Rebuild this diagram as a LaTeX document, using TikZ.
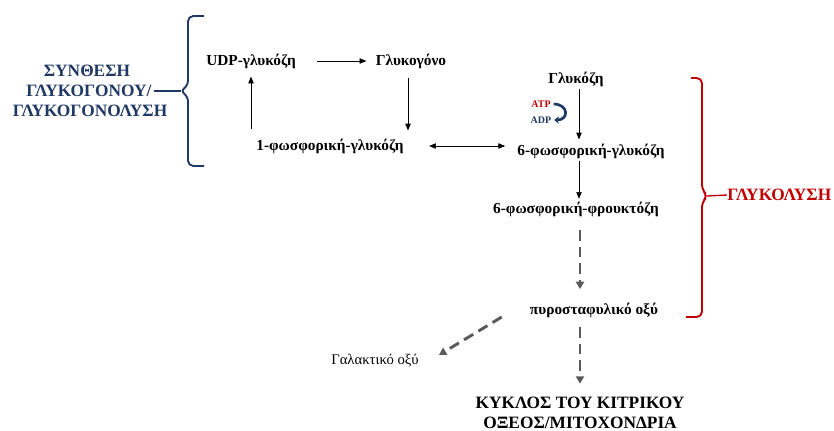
\documentclass[tikz,border=0pt]{standalone}
\usepackage{fontspec}
\setmainfont{Liberation Serif}
\usetikzlibrary{arrows.meta,calc}
\definecolor{navy}{HTML}{1F3864}
\definecolor{darkred}{HTML}{C00000}
\definecolor{dashgray}{HTML}{5A5A5A}
\begin{document}
\begin{tikzpicture}[x=0.75pt,y=-0.75pt,
  lbl/.style={inner sep=0pt,font=\fontsize{11.5}{13}\selectfont\bfseries},
  ttl/.style={inner sep=0pt,font=\fontsize{13}{14.5}\selectfont\bfseries},
  arr/.style={-{Triangle[length=5pt,width=4pt]},line width=0.4pt},
  darr/.style={-{Triangle[length=5.5pt,width=6pt]},line width=2.2pt,dashgray,dash pattern=on 8pt off 4.5pt},
  brace/.style={line width=1.4pt,rounded corners=4pt}]
\useasboundingbox (0,0) rectangle (834,430);
% synthesis / glycogenolysis
\node[ttl,navy] (synthA) at (87,71) {ΣΥΝΘΕΣΗ};
\node[ttl,navy] (synthB) at (89,91) {ΓΛΥΚΟΓΟΝΟΥ/};
\node[ttl,navy] (synthC) at (90,111) {ΓΛΥΚΟΓΟΝΟΛΥΣΗ};
\draw[navy,brace] (204,16) -- (188,16) -- (188,86) -- (180,91) -- (188,96) -- (188,166) -- (204,166);
\coordinate (btip) at (181,91);
\draw[navy,line width=1pt] ([xshift=2pt]synthB.east) -- (btip);
\node[lbl] (udp) at (251,61) {UDP-γλυκόζη};
\node[lbl] (glycogen) at (411,61) {Γλυκογόνο};
\node[lbl] (g1p) at (330,146) {1-φωσφορική-γλυκόζη};
\draw[arr,shorten <=16pt,shorten >=7pt] (udp.east) -- (glycogen.west);
\draw[arr,shorten <=7pt,shorten >=6pt] (glycogen.south -| 408,0) -- (g1p.north -| 408,0);
\draw[arr,shorten <=7pt,shorten >=6pt] (g1p.north -| 251,0) -- (udp.south -| 251,0);
% glycolysis
\node[lbl] (glucose) at (576,79) {Γλυκόζη};
\node[lbl] (g6p) at (591,151) {6-φωσφορική-γλυκόζη};
\node[lbl] (f6p) at (576,209) {6-φωσφορική-φρουκτόζη};
\node[lbl] (pyruvate) at (594,310) {πυροσταφυλικό οξύ};
\node[inner sep=0pt,font=\fontsize{11}{12}\selectfont] (lactate) at (375,361) {Γαλακτικό οξύ};
\node[ttl,align=center,anchor=north] (krebs) at (580,397) {ΚΥΚΛΟΣ ΤΟΥ ΚΙΤΡΙΚΟΥ\\ΟΞΕΟΣ/ΜΙΤΟΧΟΝΔΡΙΑ};
\node[inner sep=0pt,font=\fontsize{7.5}{8}\selectfont\bfseries,darkred] (atp) at (541,104) {ATP};
\node[inner sep=0pt,font=\fontsize{7.5}{8}\selectfont\bfseries,navy] (adp) at (541,120) {ADP};
\draw[navy,line width=2pt,-{Stealth[length=3.5pt,width=5.5pt]}] ([xshift=2pt]atp.east) to[out=0,in=0,looseness=2.4] ([xshift=2pt]adp.east);
\draw[arr,{Triangle[length=5pt,width=4pt]}-{Triangle[length=5pt,width=4pt]},shorten <=19pt,shorten >=9pt] (g1p.east) -- (g6p.west |- g1p.east);
\draw[arr,shorten <=2pt,shorten >=3pt] (glucose.south -| 579,0) -- (g6p.north -| 579,0);
\draw[arr,shorten <=1.5pt,shorten >=2pt] (g6p.south -| 579,0) -- (f6p.north -| 579,0);
\draw[darr,shorten <=10pt,shorten >=10pt] (f6p.south -| 580,0) -- (pyruvate.north -| 580,0);
\draw[darr,shorten <=7pt,shorten >=10pt] (pyruvate.south -| 580,0) -- (krebs.north -| 580,0);
\draw[darr] ($(pyruvate.west)+(-28,7)$) -- ($(lactate.east)+(20,-6)$);
\draw[darkred,brace] (691,78) -- (702,78) -- (702,190) -- (708,196) -- (702,202) -- (702,317) -- (686,317);
\coordinate (rtip) at (707,196);
\node[ttl,darkred,anchor=west] (glycolysis) at (727,195) {ΓΛΥΚΟΛΥΣΗ};
\draw[darkred,line width=1pt] (rtip) -- (glycolysis.west);
\end{tikzpicture}
\end{document}
